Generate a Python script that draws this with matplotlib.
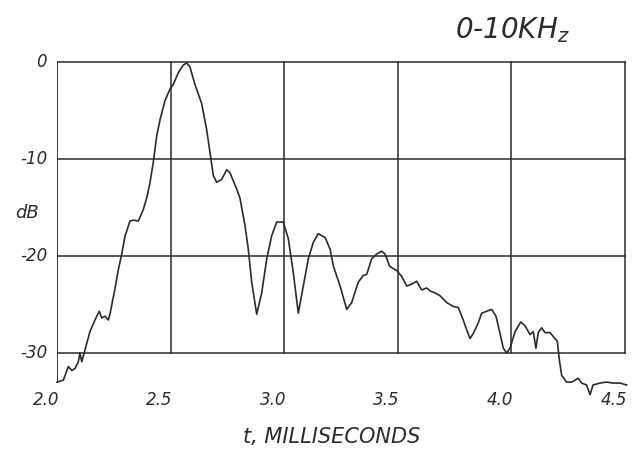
import numpy as np
import matplotlib
matplotlib.use("Agg")
import matplotlib.pyplot as plt

# time (ms) and level (dB)
t_ms = [2.000, 2.028, 2.050, 2.065, 2.079, 2.094, 2.101, 2.109, 2.123, 2.145,
        2.167, 2.186, 2.197, 2.211, 2.226, 2.233, 2.255, 2.270, 2.285, 2.299,
        2.321, 2.336, 2.358, 2.380, 2.395, 2.409, 2.424, 2.439, 2.453, 2.475,
        2.497, 2.512, 2.534, 2.556, 2.571, 2.585, 2.607, 2.637, 2.659, 2.673,
        2.688, 2.703, 2.725, 2.747, 2.761, 2.791, 2.805, 2.827, 2.842, 2.857,
        2.879, 2.901, 2.923, 2.945, 2.967, 2.996, 3.018, 3.040, 3.062, 3.084,
        3.106, 3.128, 3.150, 3.180, 3.202, 3.216, 3.246, 3.275, 3.297, 3.326,
        3.348, 3.363, 3.385, 3.407, 3.429, 3.444, 3.463, 3.473, 3.495, 3.517,
        3.539, 3.561, 3.583, 3.605, 3.627, 3.642, 3.664, 3.686, 3.715, 3.744,
        3.766, 3.788, 3.803, 3.818, 3.832, 3.854, 3.869, 3.891, 3.913, 3.932,
        3.950, 3.964, 3.979, 3.994, 4.016, 4.041, 4.060, 4.082, 4.096, 4.108,
        4.118, 4.133, 4.148, 4.170, 4.184, 4.202, 4.211, 4.221, 4.243, 4.265,
        4.294, 4.309, 4.331, 4.346, 4.359, 4.390, 4.419, 4.447, 4.478, 4.507]
level_db = [-33.0, -32.8, -31.4, -31.8, -31.6, -30.9, -30.0, -30.9, -29.7, -27.8,
            -26.6, -25.7, -26.4, -26.2, -26.6, -26.0, -23.4, -21.4, -19.8, -18.0,
            -16.4, -16.3, -16.4, -15.2, -14.0, -12.5, -10.3, -7.6, -6.0, -4.0,
            -2.8, -2.3, -1.1, -0.3, -0.1, -0.5, -2.3, -4.3, -7.0, -9.3,
            -11.7, -12.4, -12.1, -11.1, -11.4, -13.1, -14.0, -16.8, -19.3, -22.7,
            -26.0, -23.8, -20.3, -17.9, -16.5, -16.5, -18.2, -21.7, -25.9, -23.1,
            -20.3, -18.6, -17.7, -18.1, -19.3, -21.0, -23.1, -25.5, -24.8, -22.7,
            -22.0, -21.9, -20.3, -19.8, -19.5, -19.8, -21.0, -21.2, -21.5, -22.1,
            -23.1, -22.9, -22.6, -23.5, -23.3, -23.6, -23.8, -24.1, -24.8, -25.2,
            -25.3, -26.6, -27.6, -28.5, -28.0, -26.9, -25.9, -25.7, -25.5, -26.2,
            -28.0, -29.5, -30.0, -29.5, -27.8, -26.8, -27.2, -28.1, -27.8, -29.5,
            -27.9, -27.4, -27.9, -27.9, -28.3, -28.8, -30.7, -32.3, -33.0, -33.0,
            -32.6, -33.1, -33.3, -34.3, -33.3, -33.1, -33.0, -33.1, -33.1, -33.3]

x_ticks = [2.0, 2.5, 3.0, 3.5, 4.0, 4.5]
x_labels = ["2.0", "2.5", "3.0", "3.5", "4.0", "4.5"]
y_ticks = [0, -10, -20, -30]
y_labels = ["0", "-10", "-20", "-30"]

ink = "#2b2b2b"

fig = plt.figure(figsize=(6.36, 4.55), dpi=100)
ax = fig.add_axes([0.0896, 0.0963, 0.911, 0.778])
ax.set_xlim(2.0, 4.55)
ax.set_ylim(-36, 0.5)
ax.axis("off")

# hand-ruled grid
for yv in y_ticks:
    ax.plot([x_ticks[0], x_ticks[-1]], [yv, yv], color=ink, lw=1.1)
for xv in x_ticks[1:]:
    ax.plot([xv, xv], [y_ticks[-1], y_ticks[0]], color=ink, lw=1.1)
ax.plot([x_ticks[0], x_ticks[0]], [level_db[0], y_ticks[0]], color=ink, lw=1.3)

ax.plot(t_ms, level_db, color=ink, lw=1.2, clip_on=False)

lab_font = dict(family="DejaVu Sans", style="italic", color=ink)
for yv, lab in zip(y_ticks, y_labels):
    ax.annotate(lab, xy=(x_ticks[0], yv), xytext=(-7, 0), textcoords="offset points",
                ha="right", va="center", fontsize=12, **lab_font)
for xv, lab in zip(x_ticks, x_labels):
    ax.annotate(lab, xy=(xv, -30), xytext=(-8, -34), textcoords="offset points",
                ha="center", va="center", fontsize=12, **lab_font)

fig.text(0.042, 0.532, "dB", ha="center", va="center", fontsize=13, **lab_font)
fig.text(0.522, 0.04, "t, MILLISECONDS", ha="center", va="center", fontsize=15, **lab_font)
fig.text(0.805, 0.933, r"0-10KH$_\mathregular{z}$", ha="center", va="center", fontsize=20, **lab_font)

fig.savefig("out.png", dpi=100)
